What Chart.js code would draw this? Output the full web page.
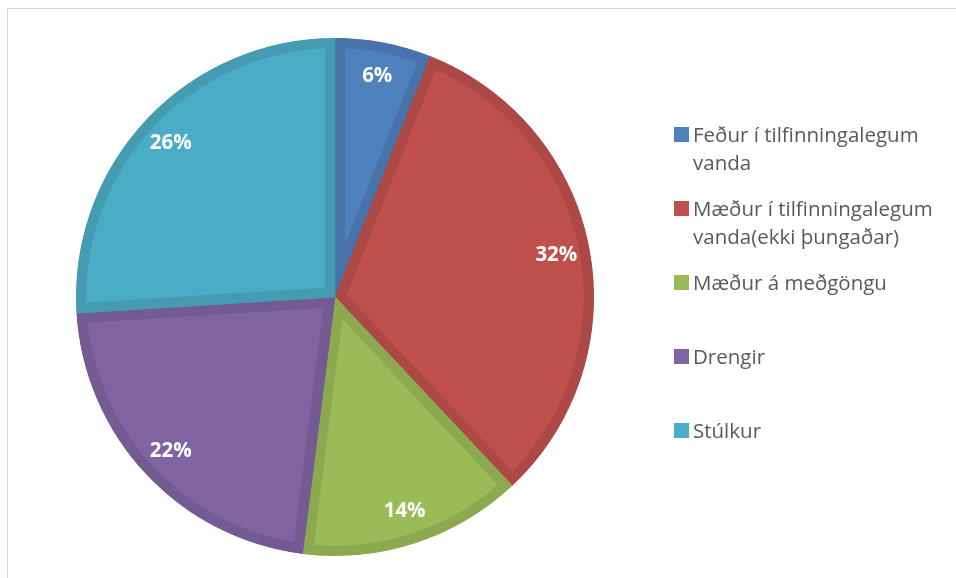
<!DOCTYPE html>
<html>
<head>
<meta charset="utf-8">
<script src="https://cdn.jsdelivr.net/npm/chart.js@4/dist/chart.umd.min.js"></script>
<style>
  html, body { margin: 0; padding: 0; width: 956px; height: 578px; overflow: hidden; background: #fff; }
  #frame { position: absolute; left: 7px; top: 8px; width: 1100px; height: 700px; border: 1.5px solid #d9d9d9; }
  #wrap { position: absolute; left: 0; top: 0; width: 956px; height: 578px; }
  #legend { position: absolute; left: 674px; top: 0; font-family: "Open Sans", sans-serif; font-size: 20.5px; color: #595959; }
  .item { position: absolute; left: 0; white-space: nowrap; }
  .box { position: absolute; left: 0; width: 15px; height: 15px; }
  .txt { position: absolute; left: 19px; line-height: 28px; }
</style>
</head>
<body>
<div id="frame"></div>
<div id="wrap"><canvas id="c" width="956" height="578"></canvas></div>
<div id="legend"></div>
<script>
const categories = [
  ["Feður í tilfinningalegum", "vanda"],
  ["Mæður í tilfinningalegum", "vanda(ekki þungaðar)"],
  ["Mæður á meðgöngu"],
  ["Drengir"],
  ["Stúlkur"]
];
const percentValues = [6, 32, 14, 22, 26];
const fillColors = ["#4F81BD", "#C0504D", "#9BBB59", "#8064A2", "#4BACC6"];
const borderColors = ["#4773AA", "#AC4845", "#8CA950", "#735A92", "#449BB2"];

const labelPlugin = {
  id: 'sliceLabels',
  afterDatasetsDraw(chart) {
    const ctx = chart.ctx;
    const meta = chart.getDatasetMeta(0);
    ctx.save();
    ctx.fillStyle = '#ffffff';
    ctx.font = 'bold 20.5px "Open Sans", sans-serif';
    ctx.textAlign = 'center';
    ctx.textBaseline = 'middle';
    meta.data.forEach((arc, i) => {
      const p = arc.getProps(['x', 'y', 'startAngle', 'endAngle', 'outerRadius'], true);
      const mid = (p.startAngle + p.endAngle) / 2;
      const r = p.outerRadius * 0.87;
      ctx.fillText(percentValues[i] + '%', p.x + Math.cos(mid) * r, p.y + Math.sin(mid) * r);
    });
    ctx.restore();
  }
};

new Chart(document.getElementById('c'), {
  type: 'pie',
  data: {
    labels: categories.map(c => c.join(' ')),
    datasets: [{
      data: percentValues,
      backgroundColor: fillColors,
      borderColor: borderColors,
      hoverBackgroundColor: fillColors,
      hoverBorderColor: borderColors,
      borderWidth: 10,
      hoverBorderWidth: 10,
      borderAlign: 'inner',
      borderJoinStyle: 'miter',
      offset: 0,
      hoverOffset: 0
    }]
  },
  options: {
    responsive: false,
    animation: false,
    events: [],
    layout: { padding: { left: 76, right: 362, top: 38, bottom: 22 } },
    plugins: { legend: { display: false }, tooltip: { enabled: false }, title: { display: false } }
  },
  plugins: [labelPlugin]
});

const legend = document.getElementById('legend');
const firstBaseline = 142;
const pitch = 74;
categories.forEach((lines, i) => {
  const item = document.createElement('div');
  item.className = 'item';
  item.style.top = (firstBaseline + i * pitch - 22) + 'px';
  const box = document.createElement('div');
  box.className = 'box';
  box.style.background = fillColors[i];
  box.style.top = '7px';
  const txt = document.createElement('div');
  txt.className = 'txt';
  txt.innerHTML = lines.join('<br>');
  item.appendChild(box);
  item.appendChild(txt);
  legend.appendChild(item);
});
</script>
</body>
</html>
